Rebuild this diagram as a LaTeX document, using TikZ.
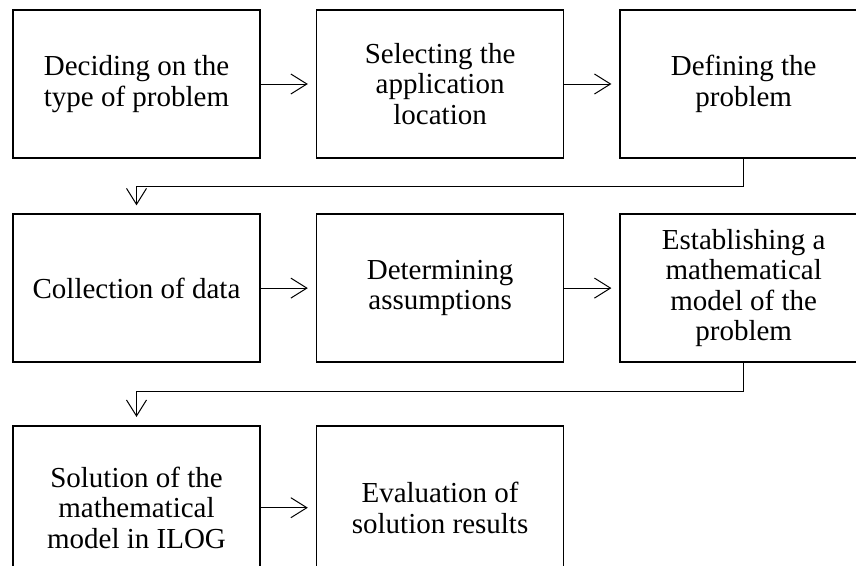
\documentclass[tikz,border=0pt]{standalone}
\usepackage{fontspec}
\setmainfont{Liberation Serif}
\usetikzlibrary{arrows.meta,positioning}

\begin{document}
\begin{tikzpicture}[x=1pt,y=1pt,>={Straight Barb[length=16pt,width=20pt]},
		box/.style={draw,line width=1.6pt,minimum width=247pt,minimum height=148pt,inner sep=0pt,align=center,font=\fontsize{29}{30.5}\selectfont},
		link/.style={->,line width=1pt,shorten >=8pt},
		node distance=54.5pt and 55pt]
	\useasboundingbox (0,0) rectangle (856,-565);
	\node[box] (s_1) at (136.5,-84) {Deciding on the\\type of problem};
	\node[box] [right=of s_1] (s_2) {Selecting the\\application\\location};
	\node[box] [right=of s_2] (s_3) {Defining the\\problem};
	\node[box] [below=of s_1] (s_4) {Collection of data};
	\node[box] [right=of s_4] (s_5) {Determining\\assumptions};
	\node[box] [right=of s_5] (s_6) {Establishing a\\mathematical\\model of the\\problem};
	\node[box,minimum height=164pt] [below=62pt of s_4] (s_7) {Solution of the\\mathematical\\model in ILOG};
	\node[box,minimum height=164pt] [right=of s_7] (s_8) {Evaluation of\\solution results};
	\path[link]
		(s_1) edge (s_2)
		(s_2) edge (s_3)
		(s_4) edge (s_5)
		(s_5) edge (s_6)
		(s_7) edge (s_8);
	\draw[link] (s_3.south) -- ++(0,-27.5) -| (s_4.north);
	\draw[link] (s_6.south) -- ++(0,-29) -| (s_7.north);
\end{tikzpicture}
\end{document}
